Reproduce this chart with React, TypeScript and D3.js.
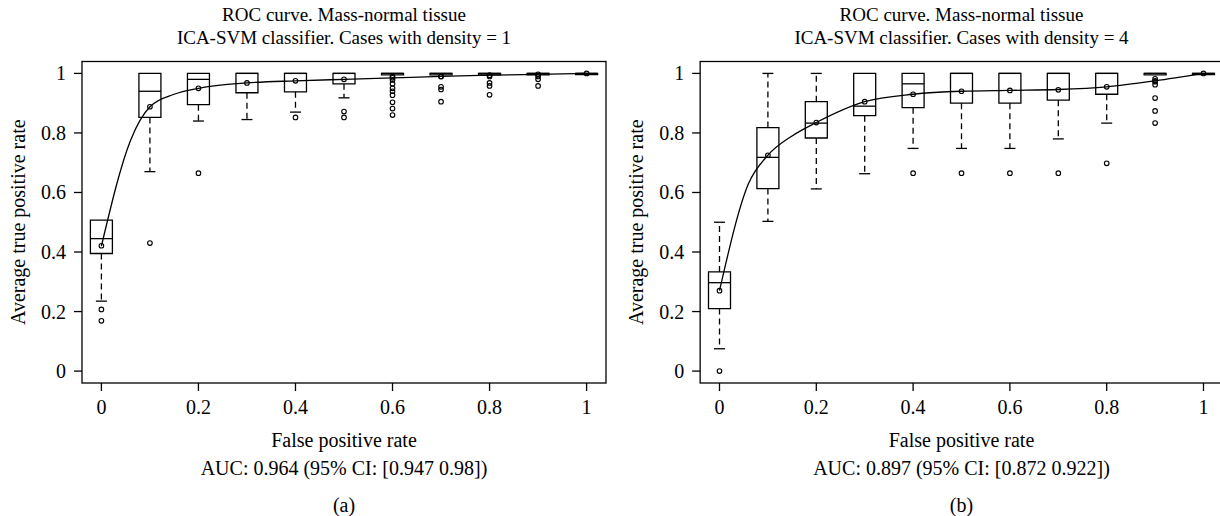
import React from 'react';
import * as d3 from 'd3';

// FPR positions of the boxes
const fprSteps = [0, 0.1, 0.2, 0.3, 0.4, 0.5, 0.6, 0.7, 0.8, 0.9, 1];

// Panel (a): density = 1
const aQ1 = [0.395, 0.852, 0.895, 0.935, 0.938, 0.965, 0.995, 0.995, 0.995, 0.995, 0.996];
const aMedian = [0.445, 0.94, 0.98, 1, 1, 1, 1, 1, 1, 1, 1];
const aQ3 = [0.507, 1, 1, 1, 1, 1, 1, 1, 1, 1, 1];
const aLow = [0.235, 0.67, 0.84, 0.845, 0.87, 0.918, 0.995, 0.995, 0.995, 0.995, 0.996];
const aHigh = [0.507, 1, 1, 1, 1, 1, 1, 1, 1, 1, 1];
const aOutliers = [
  [0.207, 0.169],
  [0.43],
  [0.665],
  [],
  [0.852],
  [0.872, 0.852],
  [0.99, 0.978, 0.965, 0.95, 0.94, 0.927, 0.903, 0.882, 0.86],
  [0.99, 0.955, 0.946, 0.905],
  [0.99, 0.968, 0.958, 0.928],
  [0.99, 0.98, 0.958],
  [],
];
const aMeans = [0.421, 0.888, 0.95, 0.968, 0.975, 0.98, 0.985, 0.99, 0.994, 0.997, 1];
const aCurveX = [0, 0.06, 0.1, 0.15, 0.2, 0.3, 0.4, 0.5, 0.6, 0.7, 0.8, 0.9, 1];
const aCurveY = [0.42, 0.775, 0.888, 0.93, 0.95, 0.968, 0.975, 0.98, 0.985, 0.99, 0.994, 0.997, 1];

// Panel (b): density = 4
const bQ1 = [0.21, 0.613, 0.783, 0.858, 0.885, 0.9, 0.9, 0.91, 0.93, 0.995, 0.996];
const bMedian = [0.297, 0.718, 0.833, 0.89, 0.965, 1, 1, 1, 1, 1, 1];
const bQ3 = [0.333, 0.818, 0.905, 1, 1, 1, 1, 1, 1, 1, 1];
const bLow = [0.075, 0.503, 0.612, 0.663, 0.748, 0.748, 0.748, 0.78, 0.833, 0.995, 0.996];
const bHigh = [0.5, 1, 1, 1, 1, 1, 1, 1, 1, 1, 1];
const bOutliers = [
  [0],
  [],
  [],
  [],
  [0.665],
  [0.665],
  [0.665],
  [0.665],
  [0.698],
  [0.982, 0.972, 0.962, 0.917, 0.874, 0.833],
  [],
];
const bMeans = [0.27, 0.725, 0.835, 0.905, 0.93, 0.94, 0.943, 0.945, 0.955, 0.975, 1];
const bCurveX = [0, 0.06, 0.1, 0.15, 0.2, 0.3, 0.4, 0.5, 0.6, 0.7, 0.8, 0.9, 1];
const bCurveY = [0.27, 0.63, 0.725, 0.79, 0.835, 0.905, 0.93, 0.94, 0.943, 0.946, 0.955, 0.975, 1];

const axisTicks = [0, 0.2, 0.4, 0.6, 0.8, 1];
const tickLabels = ['0', '0.2', '0.4', '0.6', '0.8', '1'];

const font = '"Liberation Serif", "Times New Roman", serif';

type PanelProps = {
  x0: number; // pixel of fpr = 0
  x1: number; // pixel of fpr = 1
  frameRight: number;
  title2: string;
  auc: string;
  tag: string;
  q1: number[];
  median: number[];
  q3: number[];
  low: number[];
  high: number[];
  outliers: number[][];
  means: number[];
  curveX: number[];
  curveY: number[];
};

const Panel = (p: PanelProps) => {
  const top = 61.5;
  const bottom = 383;
  const x = d3.scaleLinear().domain([0, 1]).range([p.x0, p.x1]);
  const y = d3.scaleLinear().domain([-0.04, 1.04]).range([bottom, top]);
  const left = x(-0.04);
  const boxW = 22;
  const capW = 11;
  const cx = (x(0) + x(1)) / 2;

  const curvePts: [number, number][] = p.curveX.map((v, i) => [v, p.curveY[i]]);
  const line = d3
    .line<[number, number]>()
    .x(d => x(d[0]))
    .y(d => y(d[1]))
    .curve(d3.curveMonotoneX);

  return (
    <g fontFamily={font} fill="#000">
      {/* titles */}
      <text x={cx} y={21} textAnchor="middle" fontSize={19}>ROC curve. Mass-normal tissue</text>
      <text x={cx} y={44} textAnchor="middle" fontSize={19}>{p.title2}</text>

      {/* boxes */}
      {fprSteps.map((s, i) => {
        const xc = x(s);
        const bx0 = xc - boxW / 2;
        const bx1 = xc + boxW / 2;
        const yq1 = y(p.q1[i]);
        const yq3 = y(p.q3[i]);
        const ym = y(p.median[i]);
        return (
          <g key={i} stroke="#000" strokeWidth={1.3} fill="none">
            {p.low[i] < p.q1[i] && (
              <>
                <line x1={xc} x2={xc} y1={yq1} y2={y(p.low[i])} strokeDasharray="6 4" />
                <line x1={xc - capW / 2} x2={xc + capW / 2} y1={y(p.low[i])} y2={y(p.low[i])} />
              </>
            )}
            {p.high[i] > p.q3[i] && (
              <>
                <line x1={xc} x2={xc} y1={yq3} y2={y(p.high[i])} strokeDasharray="6 4" />
                <line x1={xc - capW / 2} x2={xc + capW / 2} y1={y(p.high[i])} y2={y(p.high[i])} />
              </>
            )}
            <path d={`M${bx0},${yq3}H${bx1}V${yq1}H${bx0}Z`} />
            <line x1={bx0} x2={bx1} y1={ym} y2={ym} />
            {p.outliers[i].map((o, j) => (
              <circle key={j} cx={xc} cy={y(o)} r={2.3} strokeWidth={1.1} />
            ))}
          </g>
        );
      })}

      {/* smoothed ROC curve and means */}
      <path d={line(curvePts) || ''} fill="none" stroke="#000" strokeWidth={1.3} />
      {fprSteps.map((s, i) => (
        <circle key={i} cx={x(s)} cy={y(p.means[i])} r={2.3} fill="none" stroke="#000" strokeWidth={1.1} />
      ))}

      {/* frame */}
      <rect x={left} y={top} width={p.frameRight - left} height={bottom - top} fill="none" stroke="#000" strokeWidth={1.3} />

      {/* y axis */}
      {axisTicks.map((t, i) => (
        <g key={t}>
          <line x1={left - 8} x2={left} y1={y(t)} y2={y(t)} stroke="#000" strokeWidth={1.3} />
          <text x={left - 16} y={y(t)} dy="0.35em" textAnchor="end" fontSize={20}>{tickLabels[i]}</text>
        </g>
      ))}
      <text transform={`translate(${left - 57},${(top + bottom) / 2}) rotate(-90)`} textAnchor="middle" fontSize={20}>
        Average true positive rate
      </text>

      {/* x axis */}
      {axisTicks.map((t, i) => (
        <g key={t}>
          <line x1={x(t)} x2={x(t)} y1={bottom} y2={bottom + 8} stroke="#000" strokeWidth={1.3} />
          <text x={x(t)} y={414} textAnchor="middle" fontSize={20}>{tickLabels[i]}</text>
        </g>
      ))}
      <text x={cx} y={447} textAnchor="middle" fontSize={20}>False positive rate</text>
      <text x={cx} y={475} textAnchor="middle" fontSize={20}>{p.auc}</text>
      <text x={cx} y={512} textAnchor="middle" fontSize={20}>{p.tag}</text>
    </g>
  );
};

export default function App() {
  return (
    <svg width={1220} height={516} style={{ position: 'absolute', left: 0, top: 0, background: '#fff' }}>
      <Panel
        x0={101.4}
        x1={586.6}
        frameRight={606}
        title2="ICA-SVM classifier. Cases with density = 1"
        auc="AUC: 0.964 (95% CI: [0.947 0.98])"
        tag="(a)"
        q1={aQ1}
        median={aMedian}
        q3={aQ3}
        low={aLow}
        high={aHigh}
        outliers={aOutliers}
        means={aMeans}
        curveX={aCurveX}
        curveY={aCurveY}
      />
      <Panel
        x0={719.5}
        x1={1203.5}
        frameRight={1230}
        title2="ICA-SVM classifier. Cases with density = 4"
        auc="AUC: 0.897 (95% CI: [0.872 0.922])"
        tag="(b)"
        q1={bQ1}
        median={bMedian}
        q3={bQ3}
        low={bLow}
        high={bHigh}
        outliers={bOutliers}
        means={bMeans}
        curveX={bCurveX}
        curveY={bCurveY}
      />
    </svg>
  );
}
